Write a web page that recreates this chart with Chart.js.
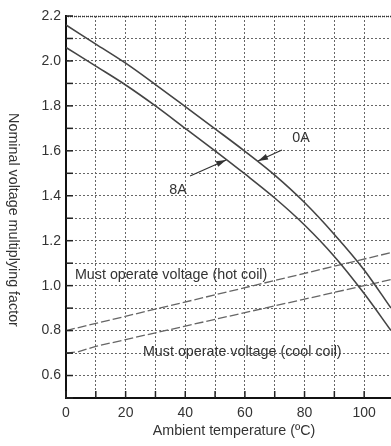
<!DOCTYPE html>
<html>
<head>
<meta charset="utf-8">
<script src="https://cdn.jsdelivr.net/npm/chart.js@4/dist/chart.umd.min.js"></script>
<style>
html,body{margin:0;padding:0;background:#fff;}
#wrap{width:391px;height:446px;position:relative;}
</style>
</head>
<body>
<div id="wrap"><canvas id="c" width="391" height="446"></canvas></div>
<script>
// ---- data ----
const temps = [0, 10, 20, 30, 40, 50, 60, 70, 80, 90, 100, 109];
const curve0A = [2.16, 2.075, 1.99, 1.895, 1.797, 1.698, 1.598, 1.492, 1.37, 1.228, 1.07, 0.9];
const curve8A = [2.06, 1.977, 1.893, 1.8, 1.7, 1.6, 1.497, 1.39, 1.27, 1.13, 0.965, 0.8];
const hotTemps = [0, 109];
const hotCoil = [0.8, 1.147];
const coolTemps = [0, 4, 10, 20, 30, 40, 50, 60, 70, 80, 90, 100, 109];
const coolCoil = [0.70, 0.705, 0.73, 0.76, 0.79, 0.82, 0.85, 0.88, 0.91, 0.94, 0.97, 1.0, 1.027];
const xTickLabels = ['0', '20', '40', '60', '80', '100'];
const yTickLabels = ['0.6', '0.8', '1.0', '1.2', '1.4', '1.6', '1.8', '2.0', '2.2'];
const xTitle = 'Ambient temperature (ºC)';
const yTitle = 'Nominal voltage multiplying factor';
const textNotes = [
  {text: 'Must operate voltage (hot coil)', x: 3.0, y: 1.047, align: 'left'},
  {text: 'Must operate voltage (cool coil)', x: 25.8, y: 0.705, align: 'left'},
  {text: '0A', x: 78.8, y: 1.657, align: 'center'},
  {text: '8A', x: 37.6, y: 1.426, align: 'center'}
];
const arrows = [
  {from: [72.4, 1.604], to: [64.4, 1.555]},
  {from: [41.6, 1.488], to: [53.7, 1.559]}
];

const FONT = "'Liberation Sans', Arial, sans-serif";
const pts = (xs, ys) => xs.map((x, i) => ({x: x, y: ys[i]}));

const decor = {
  id: 'decor',
  afterDraw(chart) {
    const ctx = chart.ctx, xs = chart.scales.x, ys = chart.scales.y, a = chart.chartArea;
    ctx.save();
    // top dotted border
    ctx.strokeStyle = '#333'; ctx.lineWidth = 1.5; ctx.setLineDash([1, 1]);
    ctx.beginPath(); ctx.moveTo(a.left, a.top + 0.5); ctx.lineTo(a.right, a.top + 0.5); ctx.stroke();
    ctx.setLineDash([]);
    // inner tick marks
    ctx.strokeStyle = '#222'; ctx.lineWidth = 1.5;
    xs.ticks.forEach(t => {
      const px = xs.getPixelForValue(t.value);
      ctx.beginPath(); ctx.moveTo(px, a.bottom); ctx.lineTo(px, a.bottom - 7); ctx.stroke();
    });
    ys.ticks.forEach(t => {
      const py = ys.getPixelForValue(t.value);
      ctx.beginPath(); ctx.moveTo(a.left, py); ctx.lineTo(a.left + 7, py); ctx.stroke();
    });
    // notes
    ctx.fillStyle = '#333';
    ctx.font = '14.3px ' + FONT;
    ctx.textBaseline = 'middle';
    textNotes.forEach(n => {
      ctx.textAlign = n.align;
      ctx.fillText(n.text, xs.getPixelForValue(n.x), ys.getPixelForValue(n.y));
    });
    // arrows
    ctx.strokeStyle = '#333'; ctx.fillStyle = '#333'; ctx.lineWidth = 1.2;
    arrows.forEach(ar => {
      const x1 = xs.getPixelForValue(ar.from[0]), y1 = ys.getPixelForValue(ar.from[1]);
      const x2 = xs.getPixelForValue(ar.to[0]), y2 = ys.getPixelForValue(ar.to[1]);
      ctx.beginPath(); ctx.moveTo(x1, y1); ctx.lineTo(x2, y2); ctx.stroke();
      const ang = Math.atan2(y2 - y1, x2 - x1), L = 10, W = 3;
      ctx.beginPath();
      ctx.moveTo(x2, y2);
      ctx.lineTo(x2 - L * Math.cos(ang) + W * Math.sin(ang), y2 - L * Math.sin(ang) - W * Math.cos(ang));
      ctx.lineTo(x2 - L * Math.cos(ang) - W * Math.sin(ang), y2 - L * Math.sin(ang) + W * Math.cos(ang));
      ctx.closePath(); ctx.fill();
    });
    // axis titles
    ctx.fillStyle = '#333';
    ctx.font = '14.3px ' + FONT;
    ctx.textAlign = 'center';
    ctx.fillText(xTitle, 234, 431);
    ctx.save();
    ctx.translate(13, 220);
    ctx.rotate(Math.PI / 2);
    ctx.fillText(yTitle, 0, 0);
    ctx.restore();
    ctx.restore();
  }
};

const lineStyle = {borderColor: '#444', borderWidth: 1.6, pointRadius: 0, fill: false, cubicInterpolationMode: 'monotone'};
const dashStyle = {borderColor: '#666', borderWidth: 1.3, pointRadius: 0, fill: false, borderDash: [9, 3], tension: 0};

new Chart(document.getElementById('c'), {
  type: 'line',
  data: {
    datasets: [
      Object.assign({label: '0A', data: pts(temps, curve0A)}, lineStyle),
      Object.assign({label: '8A', data: pts(temps, curve8A)}, lineStyle),
      Object.assign({label: 'hot coil', data: pts(hotTemps, hotCoil)}, dashStyle),
      Object.assign({label: 'cool coil', data: pts(coolTemps, coolCoil)}, dashStyle)
    ]
  },
  options: {
    responsive: false,
    animation: false,
    layout: {padding: {top: 16, right: 0, left: 0, bottom: 0}},
    plugins: {legend: {display: false}, tooltip: {enabled: false}},
    scales: {
      x: {
        type: 'linear', min: 0, max: 109,
        afterFit(s) { s.height = 48; },
        border: {display: true, color: '#111', width: 2, dash: [2, 2]},
        grid: {color: '#666', lineWidth: 1, drawTicks: false},
        ticks: {
          stepSize: 10, includeBounds: false, maxRotation: 0, autoSkip: false, padding: 7,
          color: '#333', font: {family: FONT, size: 14},
          callback: v => (Math.round(v) % 20 === 0 ? xTickLabels[Math.round(v) / 20] : '')
        }
      },
      y: {
        type: 'linear', min: 0.5, max: 2.2,
        afterFit(s) { s.width = 66; },
        border: {display: true, color: '#111', width: 2, dash: [2, 2]},
        grid: {color: '#666', lineWidth: 1, drawTicks: false},
        ticks: {
          stepSize: 0.1, autoSkip: false, padding: 5,
          color: '#333', font: {family: FONT, size: 14},
          callback: v => {
            const k = Math.round(v * 10);
            if (k % 2 !== 0 || k < 6) return '';
            return yTickLabels[(k - 6) / 2];
          }
        }
      }
    }
  },
  plugins: [decor]
});
</script>
</body>
</html>
